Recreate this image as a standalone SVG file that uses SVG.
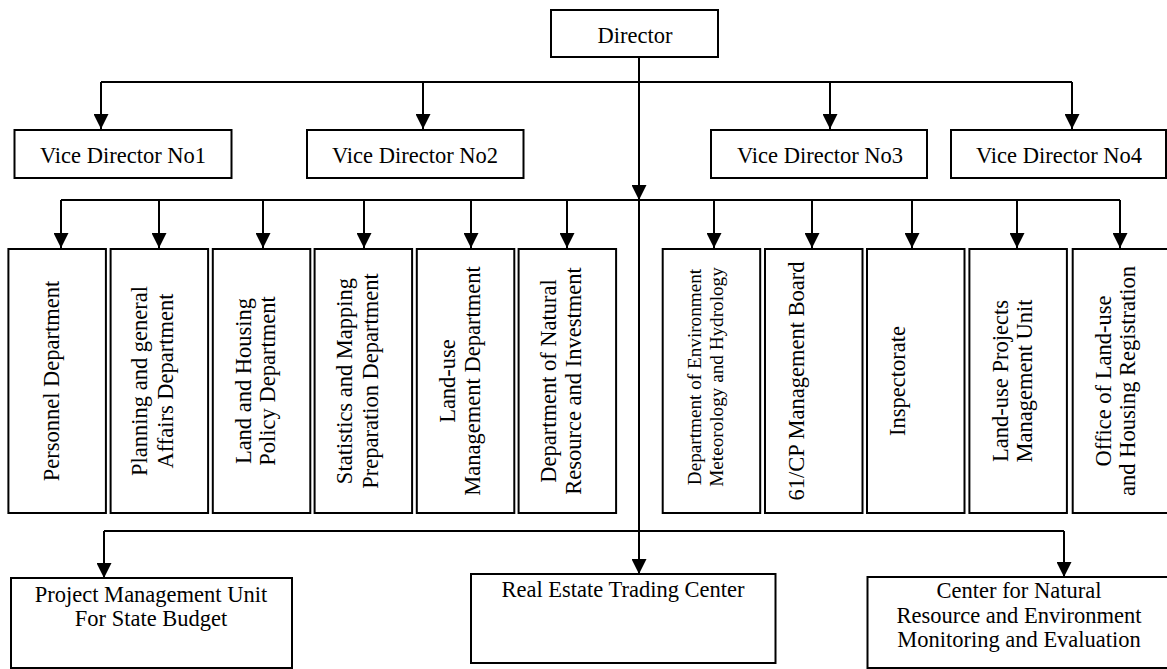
<svg xmlns="http://www.w3.org/2000/svg" width="1167" height="669" viewBox="0 0 1167 669">
<style>
.box{fill:#fff;stroke:#000;stroke-width:2}
.t{font-family:"Liberation Serif","Times New Roman",serif;font-size:22.5px;fill:#000;text-anchor:middle}
.s{font-size:19.2px}
.c{fill:none;stroke:#000;stroke-width:2}
.a{fill:none;stroke:#000;stroke-width:2;marker-end:url(#ah)}
</style>
<defs>
<marker id="ah" markerUnits="userSpaceOnUse" markerWidth="15" markerHeight="15" refX="15" refY="7.5" orient="auto">
<path d="M0,0 L15,7.5 L0,15 Z" fill="#000"/>
</marker>
</defs>
<rect width="1167" height="669" fill="#fff"/>
<g id="connectors">
<path class="c" d="M639,57 V190"/>
<path class="a" d="M639,180 V200"/>
<path class="a" d="M639,200 V574"/>
<path class="c" d="M101,82 H1072"/>
<path class="a" d="M101,82 V129"/>
<path class="a" d="M423,82 V129"/>
<path class="a" d="M830,82 V129"/>
<path class="a" d="M1072,82 V129"/>
<path class="c" d="M61,200 H1120"/>
<path class="a" d="M61,200 V248"/>
<path class="a" d="M159,200 V248"/>
<path class="a" d="M263,200 V248"/>
<path class="a" d="M364,200 V248"/>
<path class="a" d="M471,200 V248"/>
<path class="a" d="M567,200 V248"/>
<path class="a" d="M714,200 V248"/>
<path class="a" d="M812,200 V248"/>
<path class="a" d="M912,200 V248"/>
<path class="a" d="M1017,200 V248"/>
<path class="a" d="M1120,200 V248"/>
<path class="c" d="M104,531 H1064"/>
<path class="a" d="M104,531 V578"/>
<path class="a" d="M1064,531 V577"/>
</g>
<g id="director"><rect class="box" x="551" y="10" width="167" height="47"/><text class="t" x="635" y="43">Director</text></g>
<g id="vd1"><rect class="box" x="14.5" y="130" width="217" height="48"/><text class="t" x="123" y="163">Vice Director No1</text></g>
<g id="vd2"><rect class="box" x="307" y="130" width="216.5" height="48"/><text class="t" x="415" y="163">Vice Director No2</text></g>
<g id="vd3"><rect class="box" x="711" y="130" width="216" height="48"/><text class="t" x="820" y="163">Vice Director No3</text></g>
<g id="vd4"><rect class="box" x="951" y="130" width="215" height="48"/><text class="t" x="1059" y="163">Vice Director No4</text></g>
<g id="d1"><rect class="box" x="8.4" y="249" width="97.5" height="264"/><text class="t" transform="translate(59,381) rotate(-90)">Personnel Department</text></g>
<g id="d2"><rect class="box" x="110.6" y="249" width="97.5" height="264"/><text class="t" transform="translate(147,381) rotate(-90)">Planning and general</text><text class="t" transform="translate(173,381) rotate(-90)">Affairs Department</text></g>
<g id="d3"><rect class="box" x="212.8" y="249" width="97.5" height="264"/><text class="t" transform="translate(251,381) rotate(-90)">Land and Housing</text><text class="t" transform="translate(275,381) rotate(-90)">Policy Department</text></g>
<g id="d4"><rect class="box" x="314.6" y="249" width="97.5" height="264"/><text class="t" transform="translate(352,381) rotate(-90)">Statistics and Mapping</text><text class="t" transform="translate(378,381) rotate(-90)">Preparation Department</text></g>
<g id="d5"><rect class="box" x="416.8" y="249" width="97.5" height="264"/><text class="t" transform="translate(455,381) rotate(-90)">Land-use</text><text class="t" transform="translate(479.5,381) rotate(-90)">Management Department</text></g>
<g id="d6"><rect class="box" x="518.6" y="249" width="97.5" height="264"/><text class="t" transform="translate(556,381) rotate(-90)">Department of Natural</text><text class="t" transform="translate(581,381) rotate(-90)">Resource and Investment</text></g>
<g id="d7"><rect class="box" x="662.7" y="249" width="97.5" height="264"/><text class="t s" transform="translate(700.5,377) rotate(-90)">Department of Environment</text><text class="t s" transform="translate(722.5,377) rotate(-90)">Meteorology and Hydrology</text></g>
<g id="d8"><rect class="box" x="765" y="249" width="97.5" height="264"/><text class="t" transform="translate(804,381) rotate(-90)">61/CP Management Board</text></g>
<g id="d9"><rect class="box" x="867" y="249" width="97.5" height="264"/><text class="t" transform="translate(905,381) rotate(-90)">Inspectorate</text></g>
<g id="d10"><rect class="box" x="969.4" y="249" width="97.5" height="264"/><text class="t" transform="translate(1007.5,381) rotate(-90)">Land-use Projects</text><text class="t" transform="translate(1032,381) rotate(-90)">Management Unit</text></g>
<g id="d11"><rect class="box" x="1072.7" y="249" width="97.5" height="264"/><text class="t" transform="translate(1111,381) rotate(-90)">Office of Land-use</text><text class="t" transform="translate(1135,381) rotate(-90)">and Housing Registration</text></g>
<g id="pmu"><rect class="box" x="11" y="578" width="281" height="90"/><text class="t" x="151" y="602">Project Management Unit</text><text class="t" x="151" y="626">For State Budget</text></g>
<g id="retc"><rect class="box" x="471" y="574" width="304.5" height="89"/><text class="t" x="623" y="597">Real Estate Trading Center</text></g>
<g id="cnre"><rect class="box" x="867.5" y="577" width="303" height="91"/><text class="t" x="1019" y="598">Center for Natural</text><text class="t" x="1019" y="623">Resource and Environment</text><text class="t" x="1019" y="647">Monitoring and Evaluation</text></g>
</svg>
